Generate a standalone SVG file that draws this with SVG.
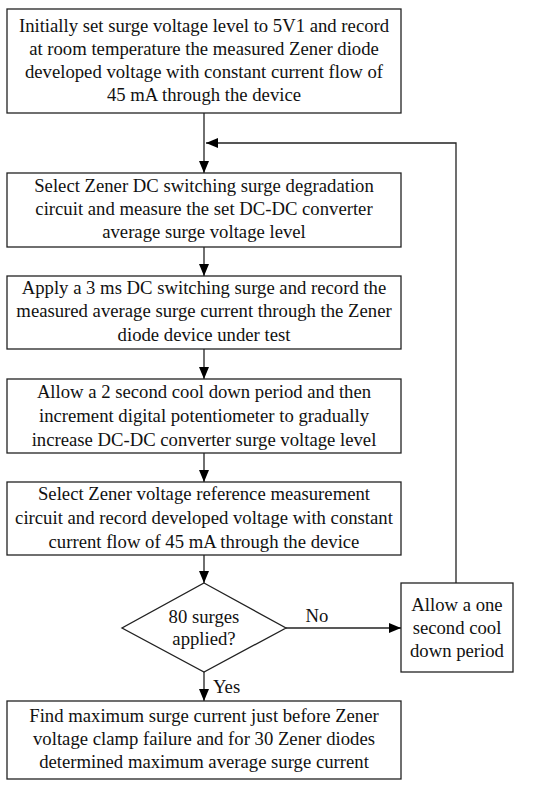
<svg xmlns="http://www.w3.org/2000/svg" width="550" height="787" viewBox="0 0 550 787">
<defs>
<marker id="ah" viewBox="0 0 12 10" refX="12" refY="5" markerWidth="12" markerHeight="10" markerUnits="userSpaceOnUse" orient="auto">
<path d="M0,0 L12,5 L0,10 z" fill="#000"/>
</marker>
</defs>
<style>
.b{fill:#fff;stroke:#222;stroke-width:1.3}
.t{font-family:"Liberation Serif","Times New Roman",serif;font-size:18.7px;fill:#111;text-anchor:middle}
.c{fill:none;stroke:#222;stroke-width:1.3}
</style>
<rect width="550" height="787" fill="#fff"/>
<g id="connectors">
<line class="c" x1="204" y1="113" x2="204" y2="173" marker-end="url(#ah)"/>
<polyline class="c" points="456,583 456,143 206,143" marker-end="url(#ah)"/>
<line class="c" x1="204" y1="247" x2="204" y2="276" marker-end="url(#ah)"/>
<line class="c" x1="204" y1="349" x2="204" y2="379" marker-end="url(#ah)"/>
<line class="c" x1="204" y1="453" x2="204" y2="482" marker-end="url(#ah)"/>
<line class="c" x1="204" y1="555" x2="204" y2="583" marker-end="url(#ah)"/>
<line class="c" x1="286" y1="628" x2="401" y2="628" marker-end="url(#ah)"/>
<line class="c" x1="204" y1="672" x2="204" y2="701" marker-end="url(#ah)"/>
<text class="t" x="317" y="622">No</text>
<text class="t" x="213" y="693" style="text-anchor:start">Yes</text>
</g>
<g id="n1">
<rect class="b" x="7" y="9" width="394" height="104"/>
<text class="t" x="204" y="32">Initially set surge voltage level to 5V1 and record</text>
<text class="t" x="204" y="55">at room temperature the measured Zener diode</text>
<text class="t" x="204" y="78">developed voltage with constant current flow of</text>
<text class="t" x="204" y="101">45 mA through the device</text>
</g>
<g id="n2">
<rect class="b" x="7" y="173" width="394" height="74"/>
<text class="t" x="204" y="192">Select Zener DC switching surge degradation</text>
<text class="t" x="204" y="215">circuit and measure the set DC-DC converter</text>
<text class="t" x="204" y="238">average surge voltage level</text>
</g>
<g id="n3">
<rect class="b" x="7" y="276" width="394" height="73"/>
<text class="t" x="204" y="294">Apply a 3 ms DC switching surge and record the</text>
<text class="t" x="204" y="317">measured average surge current through the Zener</text>
<text class="t" x="204" y="341">diode device under test</text>
</g>
<g id="n4">
<rect class="b" x="7" y="379" width="394" height="74"/>
<text class="t" x="204" y="398">Allow a 2 second cool down period and then</text>
<text class="t" x="204" y="422">increment digital potentiometer to gradually</text>
<text class="t" x="204" y="446">increase DC-DC converter surge voltage level</text>
</g>
<g id="n5">
<rect class="b" x="7" y="482" width="394" height="73"/>
<text class="t" x="204" y="500">Select Zener voltage reference measurement</text>
<text class="t" x="204" y="524">circuit and record developed voltage with constant</text>
<text class="t" x="204" y="548">current flow of 45 mA through the device</text>
</g>
<g id="n6">
<polygon class="b" points="204,583 286,628 204,672 122,628"/>
<text class="t" x="204" y="623">80 surges</text>
<text class="t" x="204" y="645">applied?</text>
</g>
<g id="n7">
<rect class="b" x="401" y="583" width="112" height="89"/>
<text class="t" x="457" y="611">Allow a one</text>
<text class="t" x="457" y="634">second cool</text>
<text class="t" x="457" y="657">down period</text>
</g>
<g id="n8">
<rect class="b" x="7" y="701" width="394" height="78"/>
<text class="t" x="204" y="722">Find maximum surge current just before Zener</text>
<text class="t" x="204" y="745">voltage clamp failure and for 30 Zener diodes</text>
<text class="t" x="204" y="768">determined maximum average surge current</text>
</g>
</svg>
